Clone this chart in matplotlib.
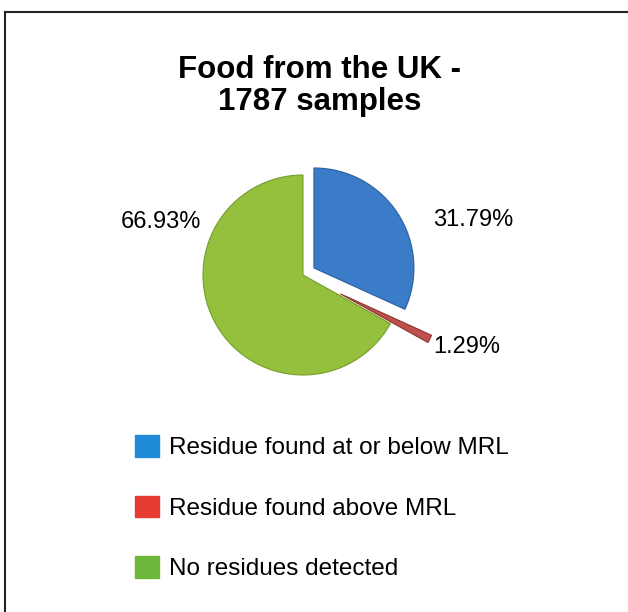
import matplotlib
matplotlib.use("Agg")
import matplotlib.pyplot as plt
from matplotlib.patches import Patch
from matplotlib.lines import Line2D

plt.rcParams["font.family"] = ["Liberation Sans", "DejaVu Sans"]

# data
categories = ["Residue found at or below MRL", "Residue found above MRL", "No residues detected"]
shares = [31.79, 1.29, 66.93]
pct_labels = ["31.79%", "1.29%", "66.93%"]

pie_colors = ["#3B7CC8", "#C0504D", "#94C03D"]
edge_colors = ["#2C5F9E", "#8E3431", "#749E2C"]
legend_colors = ["#1F8BD8", "#E53B30", "#6DB83B"]

W, H = 628, 612
fig = plt.figure(figsize=(W / 100, H / 100), dpi=100)


def fx(px):
    return px / W


def fy(py):
    return 1 - py / H


# frame lines (only left and top are visible)
fig.add_artist(Line2D([fx(5), fx(5)], [fy(12), 0], color="#222222", lw=1.5))
fig.add_artist(Line2D([fx(5), 1], [fy(12), fy(12)], color="#222222", lw=1.5))

fig.text(fx(320), fy(86), "Food from the UK -\n1787 samples", ha="center", va="center",
         fontsize=22.5, fontweight="bold", linespacing=1.12)

# pie: radius 100 px around (303, 275)
cx, cy, r = 303, 275, 100
ax = fig.add_axes([fx(cx - r), fy(cy + r), 2 * r / W, 2 * r / H])
wedges, _ = ax.pie(
    shares,
    explode=[0.13, 0.42, 0],
    colors=pie_colors,
    startangle=90,
    counterclock=False,
    radius=1,
    wedgeprops=dict(linewidth=0.8),
)
for w, ec in zip(wedges, edge_colors):
    w.set_edgecolor(ec)
    w.set_clip_on(False)
ax.set_xlim(-1, 1)
ax.set_ylim(-1, 1)
ax.set_aspect("equal")
ax.axis("off")

label_pos = [(473, 220), (467, 347), (161, 222)]
for txt, (px, py) in zip(pct_labels, label_pos):
    fig.text(fx(px), fy(py), txt, ha="center", va="center", fontsize=17)

handles = [Patch(facecolor=c, edgecolor=c) for c in legend_colors]
fig.legend(handles, categories, loc="upper left", bbox_to_anchor=(fx(113), fy(413)),
           frameon=False, fontsize=17.5, handlelength=1.0, handleheight=1.0,
           handletextpad=0.4, labelspacing=1.5)

fig.savefig("out.png", dpi=100)
